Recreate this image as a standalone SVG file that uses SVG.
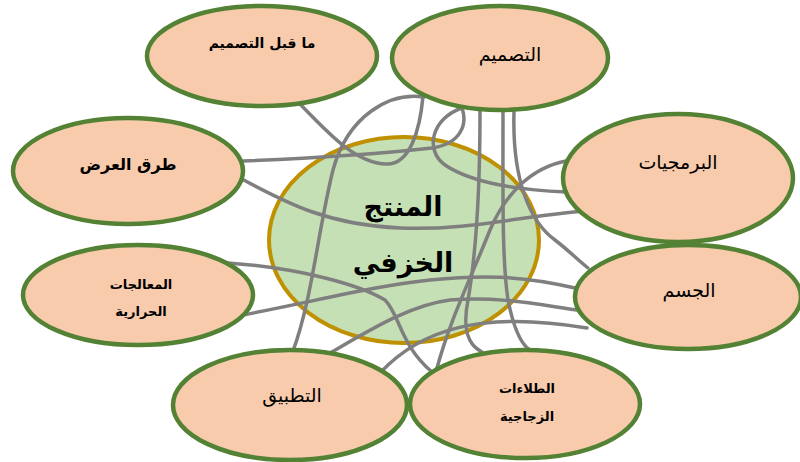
<svg xmlns="http://www.w3.org/2000/svg" width="800" height="462" viewBox="0 0 800 462">
<defs>
<style>
.node ellipse{fill:#f8cbad;stroke:#548235;stroke-width:4.5}
.center ellipse{fill:#c5e0b4;stroke:#bf9000;stroke-width:4}
#connectors path{fill:none;stroke:#7f7f7f;stroke-width:3.5;stroke-linecap:round}
text{font-family:"DejaVu Sans","Noto Sans",sans-serif;fill:#000;text-anchor:middle}
.b{font-weight:bold}
</style>
</defs>
<rect width="800" height="462" fill="#fff"/>
<g id="center" class="center">
<ellipse cx="404" cy="240" rx="135" ry="103"/>
</g>
<g id="connectors">
<path d="M300,104 C330,135 355,162 385,164 C410,166 420,130 423,96"/>
<path d="M243,161 C320,158 395,152 432,148 C460,144 468,125 462,108"/>
<path d="M293,351 C312,300 318,230 333,170 C348,115 390,92 424,97"/>
<path d="M240,178 C290,205 330,225 400,228 C470,231 530,214 597,210"/>
<path d="M462,108 C432,118 424,150 445,165 C475,185 525,190 566,192"/>
<path d="M566,161 C530,168 505,195 490,230 C470,280 450,320 437,368"/>
<path d="M480,111 C480,200 475,260 468,300 C462,330 468,345 482,352"/>
<path d="M503,111 C503,200 502,260 508,300 C514,330 522,345 530,350"/>
<path d="M228,263 C300,268 360,285 385,300 C400,315 400,345 432,372"/>
<path d="M243,315 C320,300 380,285 430,280 C480,275 520,275 575,288"/>
<path d="M330,353 C370,330 410,305 450,300 C500,296 540,305 577,310"/>
<path d="M380,373 C420,330 480,310 587,328"/>
<path d="M514,112 C512,180 530,222 555,240 C568,250 578,260 588,268"/>
</g>
<g id="n1" class="node"><ellipse cx="262" cy="56" rx="115" ry="50"/><text x="262" y="48" font-size="14" class="b">ما قبل التصميم</text></g>
<g id="n2" class="node"><ellipse cx="500" cy="58" rx="108" ry="52"/><text x="510" y="61" font-size="19">التصميم</text></g>
<g id="n3" class="node"><ellipse cx="128" cy="171" rx="115" ry="53"/><text x="128" y="170" font-size="16" class="b">طرق العرض</text></g>
<g id="n4" class="node"><ellipse cx="678" cy="178" rx="115" ry="64"/><text x="678" y="169" font-size="19">البرمجيات</text></g>
<g id="n5" class="node"><ellipse cx="138" cy="295" rx="115" ry="50"/><text x="141" y="289" font-size="13" class="b">المعالجات</text><text x="141" y="316" font-size="13" class="b">الحرارية</text></g>
<g id="n6" class="node"><ellipse cx="688" cy="297" rx="113" ry="52"/><text x="689" y="297" font-size="19">الجسم</text></g>
<g id="n7" class="node"><ellipse cx="290" cy="405" rx="117" ry="55"/><text x="292" y="402" font-size="19">التطبيق</text></g>
<g id="n8" class="node"><ellipse cx="525" cy="404" rx="115" ry="54"/><text x="527" y="393" font-size="13" class="b">الطلاءات</text><text x="527" y="421" font-size="13" class="b">الزجاجية</text></g>
<g id="center-label"><text x="403" y="216" font-size="27" class="b">المنتج</text><text x="403" y="272" font-size="27" class="b">الخزفي</text></g>
</svg>
